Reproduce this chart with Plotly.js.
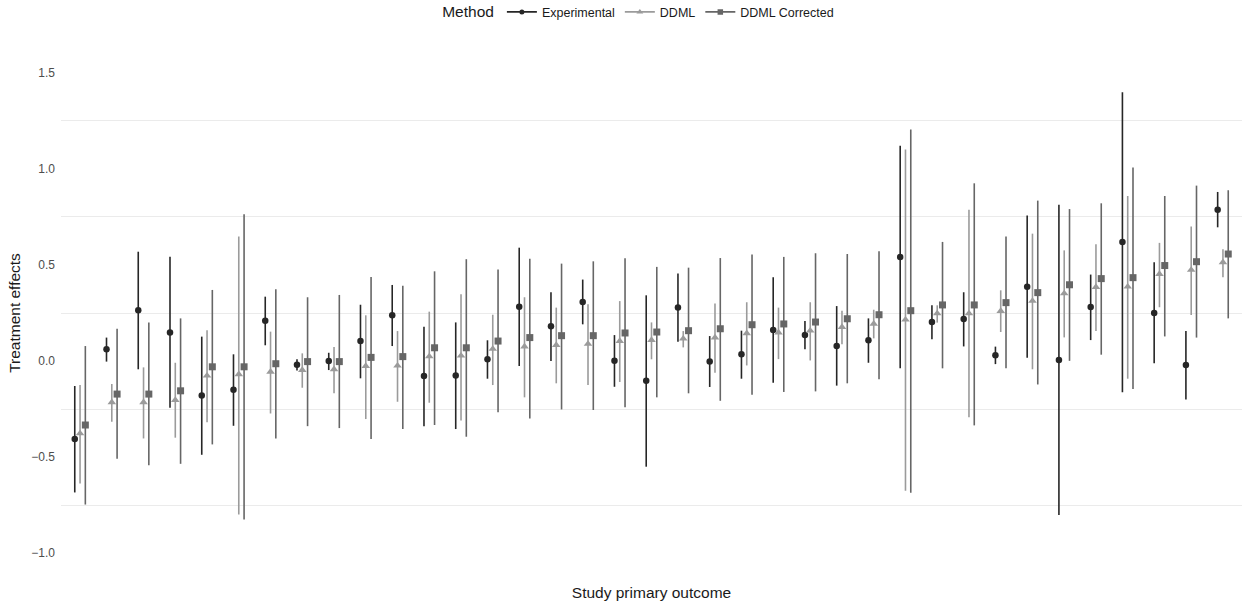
<!DOCTYPE html>
<html>
<head>
<meta charset="utf-8">
<script src="https://cdn.plot.ly/plotly-3.0.1.min.js"></script>
<style>html,body{margin:0;padding:0;background:#fff;}#chart{width:1250px;height:603px;}</style>
</head>
<body>
<div id="chart"></div>
<script>
// Studies (x categories, ordered by DDML Corrected estimate)
const studies = Array.from({length: 37}, (_, i) => 'Study ' + (i + 1));

// Experimental estimates and 95% CI
const expEst = [-0.406, 0.061, 0.264, 0.149, -0.179, -0.149, 0.210, -0.019, 0.000, 0.104, 0.238, -0.078, -0.075, 0.009, 0.283, 0.181, 0.307, 0.002, -0.102, 0.278, -0.003, 0.035, 0.161, 0.135, 0.078, 0.108, 0.542, 0.203, 0.219, 0.030, 0.387, 0.005, 0.281, 0.620, 0.250, -0.021, 0.788];
const expLo  = [-0.684, -0.003, -0.043, -0.243, -0.488, -0.337, 0.082, -0.049, -0.047, -0.090, 0.078, -0.339, -0.354, -0.092, -0.026, 0.000, 0.191, -0.134, -0.550, 0.101, -0.135, -0.092, -0.113, 0.061, -0.128, -0.009, -0.038, 0.113, 0.076, -0.016, 0.017, -0.802, 0.109, -0.163, -0.012, -0.200, 0.696];
const expHi  = [-0.130, 0.122, 0.569, 0.543, 0.127, 0.035, 0.335, 0.009, 0.043, 0.293, 0.396, 0.179, 0.201, 0.108, 0.590, 0.358, 0.424, 0.135, 0.342, 0.455, 0.130, 0.158, 0.436, 0.208, 0.286, 0.222, 1.120, 0.290, 0.358, 0.075, 0.757, 0.813, 0.450, 1.399, 0.514, 0.156, 0.880];

// DDML estimates and 95% CI
const ddmlEst = [-0.377, -0.215, -0.215, -0.203, -0.076, -0.069, -0.056, -0.047, -0.043, -0.026, -0.024, 0.024, 0.028, 0.063, 0.075, 0.083, 0.089, 0.104, 0.109, 0.116, 0.122, 0.144, 0.148, 0.158, 0.177, 0.194, 0.215, 0.248, 0.248, 0.260, 0.313, 0.352, 0.385, 0.387, 0.453, 0.474, 0.514];
const ddmlLo  = [-0.637, -0.316, -0.403, -0.399, -0.319, -0.799, -0.273, -0.139, -0.168, -0.302, -0.212, -0.217, -0.309, -0.125, -0.189, -0.116, -0.125, -0.109, 0.009, 0.071, -0.061, -0.023, 0.010, 0.003, 0.087, 0.118, -0.675, 0.200, -0.292, 0.151, -0.043, 0.123, 0.156, -0.092, 0.280, 0.240, 0.436];
const ddmlHi  = [-0.125, -0.120, -0.033, -0.009, 0.160, 0.648, 0.153, 0.040, 0.073, 0.238, 0.156, 0.257, 0.347, 0.241, 0.332, 0.278, 0.295, 0.312, 0.201, 0.156, 0.299, 0.306, 0.278, 0.306, 0.262, 0.267, 1.101, 0.290, 0.788, 0.368, 0.663, 0.576, 0.608, 0.859, 0.615, 0.700, 0.582];

// DDML Corrected estimates and 95% CI
const corrEst = [-0.333, -0.172, -0.172, -0.155, -0.030, -0.030, -0.014, -0.003, -0.003, 0.019, 0.023, 0.069, 0.069, 0.104, 0.122, 0.132, 0.132, 0.146, 0.151, 0.158, 0.168, 0.189, 0.193, 0.203, 0.220, 0.241, 0.262, 0.292, 0.292, 0.304, 0.356, 0.397, 0.429, 0.434, 0.497, 0.517, 0.557];
const corrLo  = [-0.747, -0.509, -0.543, -0.535, -0.434, -0.825, -0.403, -0.339, -0.349, -0.406, -0.354, -0.333, -0.394, -0.266, -0.299, -0.252, -0.255, -0.240, -0.189, -0.168, -0.207, -0.175, -0.161, -0.158, -0.116, -0.095, -0.686, -0.038, -0.335, -0.038, -0.122, 0.001, 0.033, -0.146, 0.128, 0.122, 0.222];
const corrHi  = [0.078, 0.168, 0.201, 0.222, 0.370, 0.764, 0.373, 0.332, 0.344, 0.438, 0.392, 0.467, 0.530, 0.477, 0.533, 0.507, 0.519, 0.535, 0.490, 0.486, 0.536, 0.554, 0.542, 0.561, 0.557, 0.571, 1.205, 0.620, 0.925, 0.648, 0.835, 0.791, 0.821, 1.007, 0.859, 0.913, 0.889];

const methods = ['Experimental', 'DDML', 'DDML Corrected'];
const colors = ['#262626', '#9b9b9b', '#666666'];
const symbols = ['circle', 'triangle-up', 'square'];
const sizes = [6.5, 7.5, 7];
const ests = [expEst, ddmlEst, corrEst];
const los = [expLo, ddmlLo, corrLo];
const his = [expHi, ddmlHi, corrHi];

const traces = [];
methods.forEach((m, k) => {
  const est = ests[k];
  traces.push({
    type: 'scatter', mode: 'markers', name: m, showlegend: false,
    x: studies, y: est, offsetgroup: m, legendgroup: m,
    marker: {color: colors[k], symbol: symbols[k], size: sizes[k], line: {width: 0}},
    error_y: {type: 'data', symmetric: false,
      array: his[k].map((h, i) => h - est[i]),
      arrayminus: los[k].map((l, i) => est[i] - l),
      color: colors[k], thickness: 1.6, width: 0},
    hoverinfo: 'x+y'
  });
});
// legend keys (line + point)
methods.forEach((m, k) => {
  traces.push({
    type: 'scatter', mode: 'lines+markers', name: m, showlegend: true,
    x: [null], y: [null], offsetgroup: m, legendgroup: m,
    line: {color: colors[k], width: 1.6},
    marker: {color: colors[k], symbol: symbols[k], size: sizes[k] - 1.5}
  });
});

const layout = {
  width: 1250, height: 603,
  paper_bgcolor: '#ffffff', plot_bgcolor: '#ffffff',
  font: {family: 'Liberation Sans, Arial, sans-serif', color: '#1a1a1a'},
  margin: {l: 61, r: 8, t: 69, b: 46, autoexpand: false},
  scattermode: 'group', scattergap: 0.5,
  showlegend: true,
  legend: {
    orientation: 'h', x: 0.49, xanchor: 'center', y: 1.147, yanchor: 'top',
    font: {size: 12.5, color: '#1a1a1a'},
    title: {text: 'Method', side: 'left', font: {size: 15.5, color: '#1a1a1a'}},
    itemwidth: 30, traceorder: 'normal', bgcolor: 'rgba(0,0,0,0)'
  },
  xaxis: {
    type: 'category', categoryorder: 'array', categoryarray: studies,
    range: [-0.6, 36.6],
    showticklabels: false, showgrid: false, zeroline: false, showline: false, ticks: '',
    title: {text: 'Study primary outcome', font: {size: 15.5, color: '#1a1a1a'}, standoff: 30},
    automargin: false
  },
  yaxis: {
    range: [-1.02, 1.52], tick0: 0, dtick: 0.5, tickformat: '.1f',
    showgrid: false, zeroline: false, showline: false, ticks: '',
    tickfont: {size: 12, color: '#4d4d4d'}, ticklabelstandoff: 5,
    minor: {tick0: 0.25, dtick: 0.5, showgrid: true, gridcolor: '#ebebeb', gridwidth: 1, ticks: ''},
    title: {text: 'Treatment effects', font: {size: 15.5, color: '#1a1a1a'}, standoff: 6},
    automargin: false
  }
};

Plotly.newPlot('chart', traces, layout, {displayModeBar: false, staticPlot: true});
</script>
</body>
</html>
